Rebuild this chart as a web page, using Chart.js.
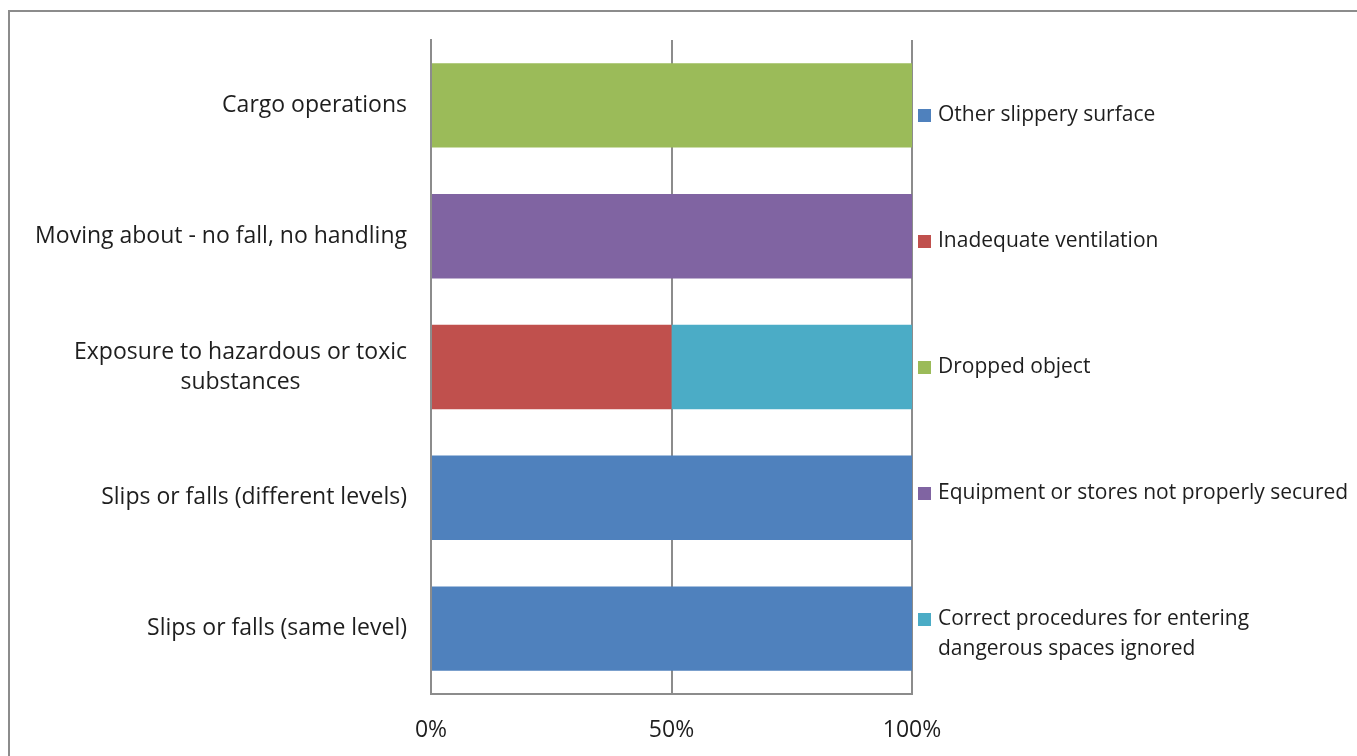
<!DOCTYPE html>
<html>
<head>
<meta charset="utf-8">
<script src="https://cdn.jsdelivr.net/npm/chart.js@4/dist/chart.umd.min.js"></script>
<style>
  html, body { margin: 0; padding: 0; background: #fff; overflow: hidden; }
  #frame { position: absolute; left: 8px; top: 10px; width: 1400px; height: 800px; border: 2px solid #8c8c8c; }
  #wrap { position: absolute; left: 0; top: 0; width: 1357px; height: 756px; }
</style>
</head>
<body>
<div id="frame"></div>
<div id="wrap"><canvas id="myChart"></canvas></div>
<script>
// categories, top to bottom
const categories = [
  'Cargo operations',
  'Moving about - no fall, no handling',
  ['Exposure to hazardous or toxic', 'substances'],
  'Slips or falls (different levels)',
  'Slips or falls (same level)'
];

// share of each cause, in percent
const otherSlippery = [0, 0, 0, 100, 100];
const inadequateVent = [0, 0, 50, 0, 0];
const droppedObject = [100, 0, 0, 0, 0];
const notSecured = [0, 100, 0, 0, 0];
const dangerousSpaces = [0, 0, 50, 0, 0];

const xTicks = [0, 50, 100];

const FONT_FAMILY = '"Open Sans", "Liberation Sans", sans-serif';
const AXIS_SIZE = 23;
const KEY_SIZE = 21;
const LINE_H = 30;
const TEXT = '#1e1e1e';
const GRID = '#8c8c8c';

const canvas = document.getElementById('myChart');
const ctx = canvas.getContext('2d');

// y labels and the right-hand key are painted by hand so the wrapped lines sit like the original
const sideText = {
  id: 'sideText',
  afterDraw(chart) {
    const c = chart.ctx;
    const area = chart.chartArea;
    const yScale = chart.scales.y;
    c.save();
    c.font = AXIS_SIZE + 'px ' + FONT_FAMILY;
    c.fillStyle = TEXT;
    c.textBaseline = 'middle';
    c.textAlign = 'center';
    chart.data.labels.forEach((cat, i) => {
      const lines = [].concat(cat);
      const w = Math.max(...lines.map(l => c.measureText(l).width));
      const cx = area.left - 24 - w / 2;
      const cy = yScale.getPixelForValue(i);
      lines.forEach((l, j) => c.fillText(l, cx, cy + (j - (lines.length - 1) / 2) * LINE_H));
    });

    const sets = chart.data.datasets;
    const mid = (area.top + area.bottom) / 2;
    const step = 126;
    c.font = KEY_SIZE + 'px ' + FONT_FAMILY;
    c.textAlign = 'left';
    sets.forEach((ds, i) => {
      const y = mid + (i - (sets.length - 1) / 2) * step;
      c.fillStyle = ds.backgroundColor;
      c.fillRect(area.right + 6, y - 6, 13, 13);
      c.fillStyle = TEXT;
      ds.label.split('\n').forEach((l, j) => c.fillText(l, area.right + 26, y + j * LINE_H));
    });
    c.restore();
  }
};

const myChart = new Chart(ctx, {
  type: 'bar',
  data: {
    labels: categories,
    datasets: [
      { label: 'Other slippery surface', data: otherSlippery, backgroundColor: '#4f81bd' },
      { label: 'Inadequate ventilation', data: inadequateVent, backgroundColor: '#c0504d' },
      { label: 'Dropped object', data: droppedObject, backgroundColor: '#9bbb59' },
      { label: 'Equipment or stores not properly secured', data: notSecured, backgroundColor: '#8064a2' },
      { label: 'Correct procedures for entering\ndangerous spaces ignored', data: dangerousSpaces, backgroundColor: '#4bacc6' }
    ]
  },
  options: {
    indexAxis: 'y',
    responsive: true,
    maintainAspectRatio: false,
    animation: false,
    barPercentage: 0.645,
    categoryPercentage: 1,
    layout: { padding: { left: 0, right: 445, top: 40, bottom: 0 } },
    plugins: { legend: { display: false }, tooltip: { enabled: false } },
    scales: {
      x: {
        stacked: true,
        min: 0,
        max: 100,
        afterBuildTicks: s => { s.ticks = xTicks.map(v => ({ value: v })); },
        afterFit: s => { s.height = 62; },
        grid: { color: GRID, lineWidth: 2, drawTicks: false },
        border: { color: GRID, width: 2 },
        ticks: {
          padding: 23,
          color: TEXT,
          font: { family: FONT_FAMILY, size: AXIS_SIZE },
          callback: v => v + '%'
        }
      },
      y: {
        stacked: true,
        afterFit: s => { s.width = 431; },
        grid: { display: false },
        border: { color: GRID, width: 2 },
        ticks: { display: false }
      }
    }
  },
  plugins: [sideText]
});
</script>
</body>
</html>
